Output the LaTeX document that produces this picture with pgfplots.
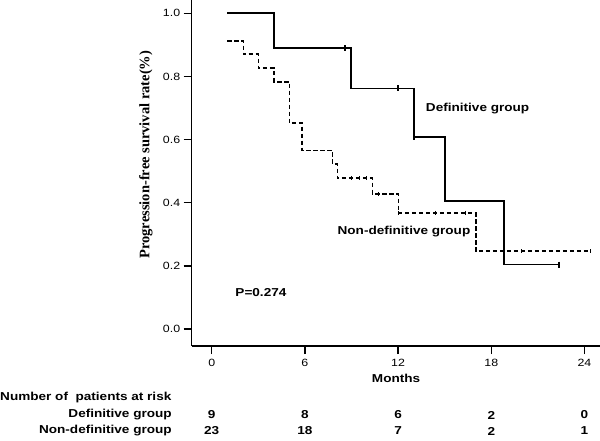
\documentclass[border=0pt]{standalone}
\usepackage{fontspec}
\setmainfont{Liberation Sans}[FakeStretch=1.18]
\newfontfamily\labserif{Liberation Serif}
\usepackage{pgfplots}
\pgfplotsset{compat=1.18}

\begin{document}
\begin{tikzpicture}
\useasboundingbox (0,0) rectangle (600bp,441bp);
\tikzset{lab/.style={font=\bfseries\fontsize{11.5bp}{13bp}\selectfont}}

% Kaplan-Meier curves, data
\begin{axis}[
  at={(191.7bp,95bp)}, anchor=south west,
  scale only axis, width=408.3bp, height=346bp,
  xmin=-1.288, xmax=25.0, ymin=-0.0539, ymax=1.042,
  axis x line*=bottom, axis y line*=left,
  xtick pos=bottom, ytick pos=left,
  axis line style={line width=1.3bp},
  tick align=outside, major tick length=8bp,
  every tick/.style={line width=1.5bp, black},
  xtick={0,6,12,18,24}, ytick={0,0.2,0.4,0.6,0.8,1.0},
  yticklabel style={/pgf/number format/fixed,/pgf/number format/precision=1,/pgf/number format/fixed zerofill},
  /pgf/number format/assume math mode=true,
  tick label style={font=\fontsize{10.5bp}{12bp}\selectfont},
  xticklabel style={yshift=-2bp},
  ylabel={Progression-free survival rate(\%)},
  ylabel style={at={(axis description cs:-0.112,0.553)}, anchor=center,
    font=\labserif\bfseries\fontsize{14.5bp}{16bp}\selectfont},
  clip=false,
]
% Definitive group
\addplot[const plot, line width=1.7bp, black] coordinates {
  (1,1) (4.03,0.889) (8.95,0.762) (13.03,0.609) (15.02,0.406) (18.82,0.204) (22.36,0.204)
};
\addplot[only marks, mark=|, mark size=3bp, mark options={line width=1.2bp}] coordinates {
  (8.58,0.889) (12.0,0.762) (13.03,0.609) (22.36,0.204)
};
% Non-definitive group
\addplot[const plot, line width=1.6bp, black, dash pattern=on 4.5bp off 2.5bp] coordinates {
  (1,0.913) (2.04,0.870) (3.0,0.826) (4.01,0.783) (5.0,0.652) (5.83,0.565)
  (7.79,0.522) (8.09,0.478) (10.34,0.428) (12.02,0.367) (17.0,0.247) (24.36,0.247)
};
\addplot[only marks, mark=|, mark size=1.8bp, mark options={line width=1.1bp}] coordinates {
  (9.01,0.478) (9.5,0.478) (9.98,0.478) (10.73,0.428) (12.02,0.367) (14.38,0.367)
  (16.35,0.367) (19.96,0.247) (24.36,0.247)
};

\node[lab] at (axis cs:17.12,0.697) {Definitive group};
\node[lab] at (axis cs:12.38,0.310) {Non-definitive group};
\node[lab] at (axis cs:3.17,0.117) {P=0.274};
\node[lab] at (axis cs:11.87,-0.158) {Months};

% number at risk table
\node[lab, anchor=west, inner sep=0pt] at (axis cs:-13.63,-0.2186) {Number of\ \ patients at risk};
\node[lab, anchor=east, inner sep=0pt] at (axis cs:-2.56,-0.2724) {Definitive group};
\node[lab, anchor=east, inner sep=0pt] at (axis cs:-2.56,-0.3231) {Non-definitive group};
\node[lab] at (axis cs:0,-0.2724) {9};
\node[lab] at (axis cs:6,-0.2724) {8};
\node[lab] at (axis cs:12,-0.2724) {6};
\node[lab] at (axis cs:18,-0.2724) {2};
\node[lab] at (axis cs:24,-0.2724) {0};
\node[lab] at (axis cs:0,-0.3231) {23};
\node[lab] at (axis cs:6,-0.3231) {18};
\node[lab] at (axis cs:12,-0.3231) {7};
\node[lab] at (axis cs:18,-0.3231) {2};
\node[lab] at (axis cs:24,-0.3231) {1};
\end{axis}
\end{tikzpicture}
\end{document}
